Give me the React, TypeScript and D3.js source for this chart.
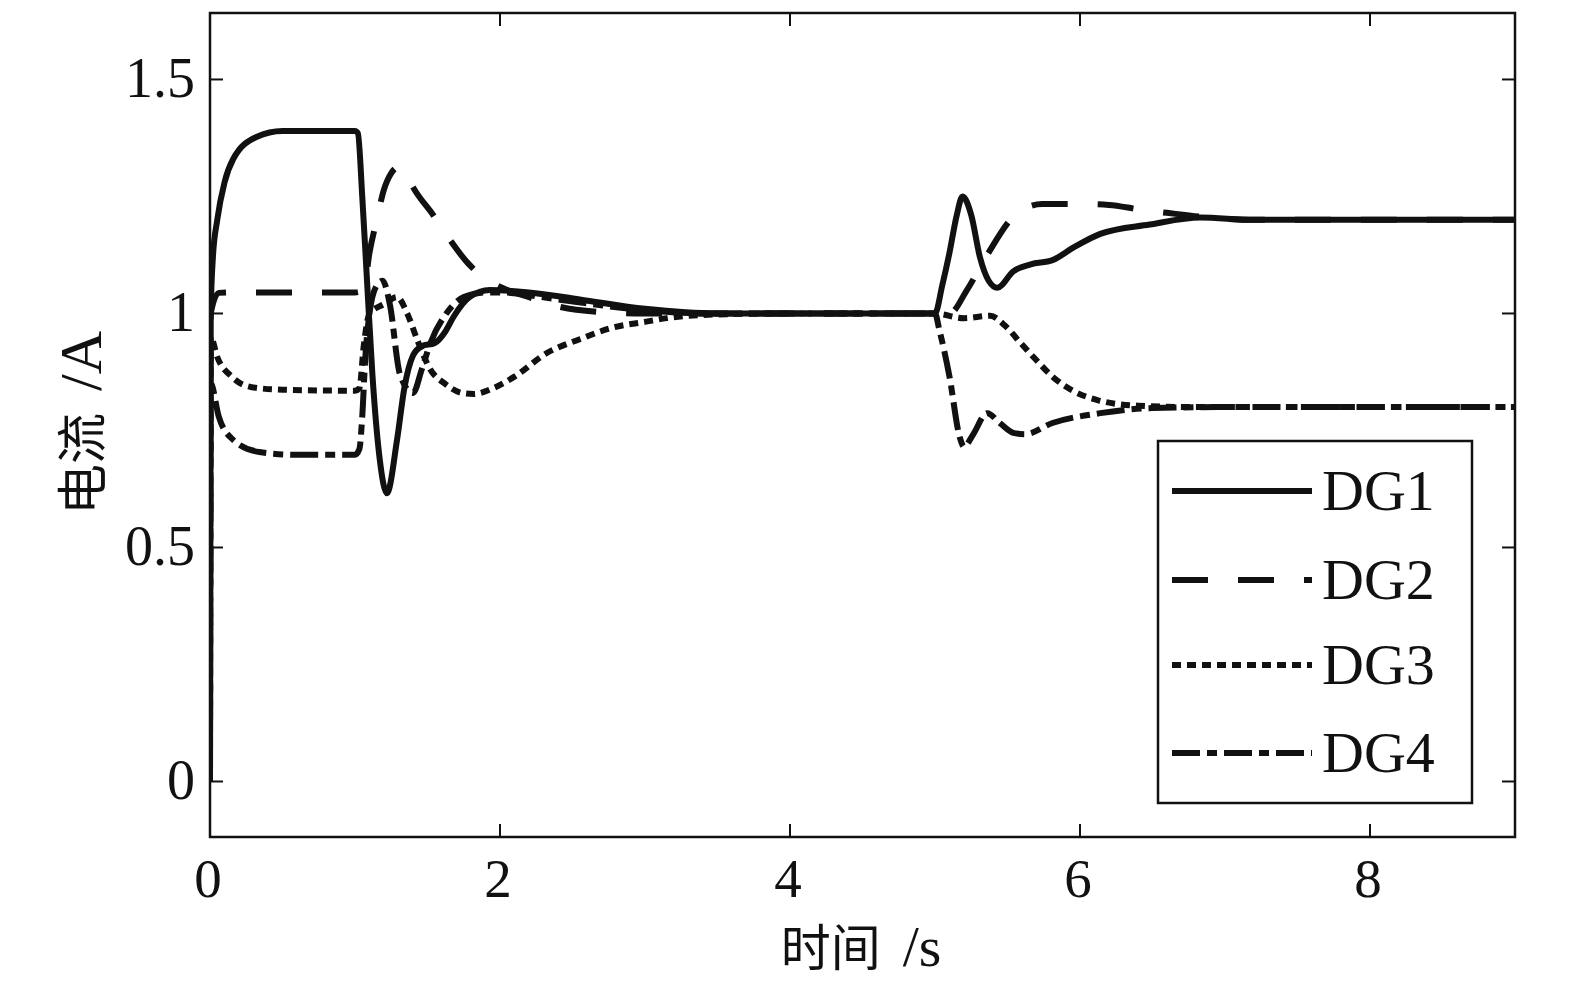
import React from "react";
import * as d3 from "d3";

// ---- data ----
const dg1T = [0, 0.005, 0.02, 0.05, 0.1, 0.16, 0.32, 0.5, 0.7, 1.0, 1.02, 1.05, 1.08, 1.12, 1.17, 1.22, 1.29, 1.34, 1.4, 1.46, 1.55, 1.62, 1.68, 1.79, 1.93, 2.2, 2.55, 3.0, 3.5, 4.0, 5.0, 5.05, 5.1, 5.15, 5.19, 5.25, 5.31, 5.37, 5.43, 5.54, 5.66, 5.81, 5.95, 6.14, 6.48, 6.83, 7.2, 8, 9];
const dg1V = [0, 1.0, 1.12, 1.2, 1.28, 1.33, 1.377, 1.39, 1.39, 1.39, 1.385, 1.25, 1.086, 0.87, 0.69, 0.616, 0.73, 0.84, 0.91, 0.93, 0.937, 0.96, 0.993, 1.035, 1.05, 1.045, 1.03, 1.01, 1.0, 1.0, 1.0, 1.06, 1.13, 1.21, 1.25, 1.21, 1.12, 1.07, 1.055, 1.09, 1.105, 1.114, 1.14, 1.17, 1.19, 1.205, 1.2, 1.2, 1.2];

const dg2T = [0, 0.005, 0.06, 0.2, 1.0, 1.06, 1.1, 1.15, 1.2, 1.25, 1.3, 1.35, 1.4, 1.54, 1.64, 1.78, 1.95, 2.05, 2.2, 2.4, 2.7, 3.0, 5.0, 5.1, 5.22, 5.35, 5.57, 5.74, 5.98, 6.2, 6.41, 6.6, 6.83, 7.2, 9];
const dg2V = [0, 1.0, 1.044, 1.045, 1.045, 1.05, 1.13, 1.2, 1.265, 1.3, 1.313, 1.3, 1.27, 1.21, 1.164, 1.107, 1.065, 1.05, 1.035, 1.015, 1.003, 1.0, 1.0, 1.0, 1.05, 1.12, 1.215, 1.234, 1.234, 1.232, 1.222, 1.215, 1.207, 1.2, 1.2];

const dg3T = [0, 0.005, 0.05, 0.15, 0.28, 0.5, 1.0, 1.03, 1.06, 1.1, 1.2, 1.29, 1.36, 1.43, 1.52, 1.62, 1.74, 1.82, 1.95, 2.1, 2.32, 2.55, 2.78, 3.0, 3.15, 3.5, 4.0, 5.0, 5.2, 5.38, 5.48, 5.59, 5.7, 5.81, 5.95, 6.12, 6.4, 6.8, 9];
const dg3V = [0, 0.95, 0.907, 0.865, 0.843, 0.837, 0.835, 0.84, 0.93, 1.0, 1.02, 1.035, 1.0, 0.943, 0.88, 0.85, 0.83, 0.828, 0.84, 0.865, 0.915, 0.945, 0.97, 0.982, 0.99, 0.998, 1.0, 1.0, 0.99, 0.995, 0.975, 0.937, 0.9, 0.865, 0.835, 0.815, 0.803, 0.8, 0.8];

const dg4T = [0, 0.005, 0.06, 0.16, 0.34, 0.6, 1.0, 1.03, 1.05, 1.07, 1.1, 1.15, 1.19, 1.24, 1.31, 1.4, 1.46, 1.52, 1.63, 1.75, 1.9, 2.0, 2.4, 2.9, 3.5, 5.0, 5.03, 5.1, 5.17, 5.2, 5.26, 5.36, 5.45, 5.54, 5.62, 5.81, 6.14, 6.5, 7.0, 9];
const dg4V = [0, 0.85, 0.78, 0.73, 0.704, 0.698, 0.698, 0.71, 0.78, 0.9, 1.0, 1.06, 1.07, 1.02, 0.87, 0.83, 0.88, 0.937, 1.0, 1.035, 1.045, 1.045, 1.03, 1.01, 1.0, 1.0, 0.965, 0.865, 0.736, 0.715, 0.74, 0.787, 0.765, 0.745, 0.742, 0.766, 0.787, 0.798, 0.8, 0.8];

const seriesNames = ["DG1", "DG2", "DG3", "DG4"];
const xTicks = [0, 2, 4, 6, 8];
const yTicks = [0, 0.5, 1, 1.5];
const yTickLabels = ["0", "0.5", "1", "1.5"];
const xTickLabels = ["0", "2", "4", "6", "8"];

const dashes = ["none", "36,30", "9,6", "28,7,10,7"];

export default function App() {
  const left = 210, right = 1515, top = 13, bottom = 837;
  const x = d3.scaleLinear().domain([0, 9]).range([left, right]);
  const y = d3.scaleLinear().domain([-0.1186, 1.642]).range([bottom, top]);

  const all = [
    [dg1T, dg1V],
    [dg2T, dg2V],
    [dg3T, dg3V],
    [dg4T, dg4V],
  ];
  const line = d3
    .line<[number, number]>()
    .x((d) => x(d[0]))
    .y((d) => y(d[1]))
    .curve(d3.curveMonotoneX);

  const serif = "'Liberation Serif', 'DejaVu Serif', serif";
  const cjk = "'Noto Sans CJK SC', sans-serif";
  const ink = "#111";
  const tickLen = 13;

  const legX0 = 1158, legY0 = 441, legW = 314, legH = 362;
  const legRows = [491, 580, 665, 753];

  return (
    <svg
      width={1575}
      height={984}
      style={{ position: "absolute", left: 0, top: 0, background: "#fff" }}
    >
      <defs>
        <clipPath id="plot">
          <rect x={left} y={top} width={right - left} height={bottom - top} />
        </clipPath>
      </defs>
      <rect x={0} y={0} width={1575} height={984} fill="#fff" />

      {/* series */}
      <g clipPath="url(#plot)">
        {all.map(([t, v], i) => {
          const pts = t.map((tt, k) => [tt, v[k]] as [number, number]);
          return (
            <path
              key={i}
              d={line(pts) || ""}
              fill="none"
              stroke={ink}
              strokeWidth={6}
              strokeDasharray={dashes[i]}
              strokeLinejoin="round"
            />
          );
        })}
      </g>

      {/* frame */}
      <rect
        x={left}
        y={top}
        width={right - left}
        height={bottom - top}
        fill="none"
        stroke={ink}
        strokeWidth={2.5}
      />

      {/* x ticks */}
      {xTicks.map((t, i) => (
        <g key={"xt" + i}>
          <line x1={x(t)} x2={x(t)} y1={bottom} y2={bottom - tickLen} stroke={ink} strokeWidth={2} />
          <line x1={x(t)} x2={x(t)} y1={top} y2={top + tickLen} stroke={ink} strokeWidth={2} />
          <text
            x={x(t) - 2}
            y={897}
            textAnchor="middle"
            fontFamily={serif}
            fontSize={55}
            fill={ink}
          >
            {xTickLabels[i]}
          </text>
        </g>
      ))}

      {/* y ticks */}
      {yTicks.map((t, i) => (
        <g key={"yt" + i}>
          <line x1={left} x2={left + tickLen} y1={y(t)} y2={y(t)} stroke={ink} strokeWidth={2} />
          <line x1={right} x2={right - tickLen} y1={y(t)} y2={y(t)} stroke={ink} strokeWidth={2} />
          <text
            x={195}
            y={y(t) + 18}
            textAnchor="end"
            fontFamily={serif}
            fontSize={56}
            fill={ink}
          >
            {yTickLabels[i]}
          </text>
        </g>
      ))}

      {/* axis labels */}
      <text x={861} y={966} textAnchor="middle" fill={ink}>
        <tspan fontFamily={cjk} fontSize={50}>时间</tspan>
        <tspan fontFamily={serif} fontSize={58} dx={22}>/s</tspan>
      </text>
      <text
        transform="translate(101,423) rotate(-90)"
        textAnchor="middle"
        fill={ink}
      >
        <tspan fontFamily={cjk} fontSize={51}>电流</tspan>
        <tspan fontFamily={serif} fontSize={60} dx={22}>/A</tspan>
      </text>

      {/* legend */}
      <rect x={legX0} y={legY0} width={legW} height={legH} fill="#fff" stroke={ink} strokeWidth={2.5} />
      {seriesNames.map((n, i) => (
        <g key={"lg" + i}>
          <line
            x1={1172}
            x2={1312}
            y1={legRows[i]}
            y2={legRows[i]}
            stroke={ink}
            strokeWidth={6}
            strokeDasharray={dashes[i]}
          />
          <text
            x={1322}
            y={legRows[i] + 19}
            fontFamily={serif}
            fontSize={58}
            fill={ink}
          >
            {n}
          </text>
        </g>
      ))}
    </svg>
  );
}
